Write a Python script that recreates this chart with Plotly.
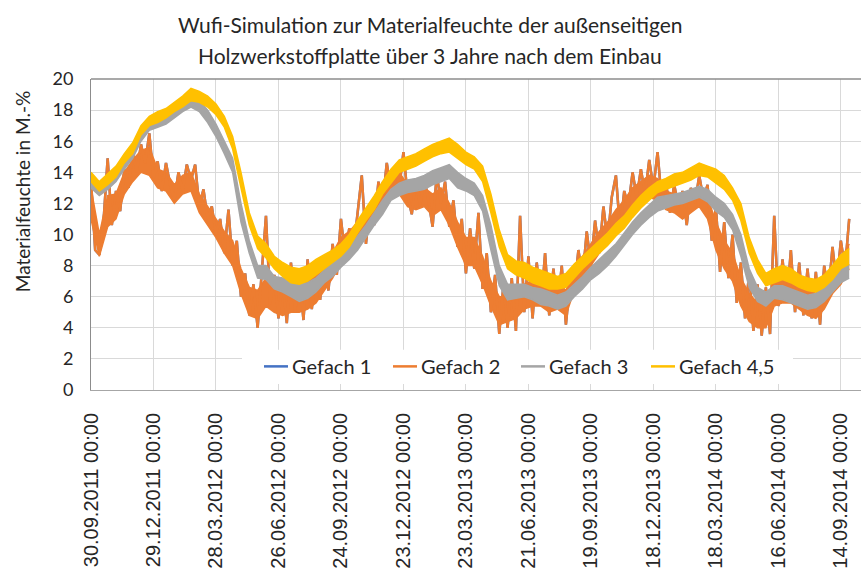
import pandas as pd
import plotly.graph_objects as go

START = pd.Timestamp("2011-09-30")

# Gefach 2: Materialfeuchte in M.-%, alle 6 Tage ab 30.09.2011 (Spitzen und Senken des Stundenverlaufs)
gefach_2 = [
    13.5, 9.0, 8.7, 10.8, 14.9, 10.6, 12.8, 11.5, 14.2, 13.0,
    15.3, 14.0, 15.8, 14.6, 16.5, 13.6, 14.7, 12.8, 14.6, 13.2,
    12.2, 14.0, 12.8, 14.5, 13.5, 14.5, 11.8, 12.9, 11.0, 11.8,
    10.0, 11.0, 8.8, 11.6, 8.0, 9.6, 6.0, 7.5, 4.8, 6.8,
    4.0, 7.6, 11.2, 5.5, 7.4, 4.6, 7.0, 4.3, 8.2, 5.0,
    7.6, 4.5, 8.4, 5.2, 7.8, 5.8, 8.6, 6.4, 9.4, 7.4,
    11.0, 8.6, 10.4, 9.0, 11.3, 13.8, 9.4, 12.0, 10.6, 13.4,
    12.0, 14.6, 12.8, 14.2, 13.0, 15.3, 12.5, 11.3, 13.5, 11.8,
    13.6, 12.2, 10.5, 13.9, 12.0, 13.4, 10.5, 12.2, 9.2, 11.0,
    7.5, 10.4, 7.8, 11.4, 6.5, 8.8, 5.0, 7.4, 3.6, 6.8,
    4.0, 7.2, 3.8, 11.2, 5.0, 8.6, 4.6, 8.2, 5.4, 8.8,
    4.8, 7.8, 5.2, 8.0, 4.2, 7.0, 6.4, 9.0, 7.2, 10.2,
    8.0, 10.9, 8.8, 11.8, 9.6, 12.4, 13.8, 10.3, 12.8, 11.8,
    14.0, 12.4, 14.2, 12.6, 14.8, 13.0, 15.3, 12.2, 13.4, 11.4,
    13.2, 11.8, 12.8, 10.6, 13.0, 12.0, 13.8, 12.3, 13.2, 9.6,
    11.8, 7.6, 10.8, 7.2, 10.0, 5.6, 8.2, 4.6, 7.6, 3.8,
    6.8, 3.5, 6.6, 3.6, 11.2, 5.4, 8.4, 5.6, 9.0, 5.0,
    8.2, 4.8, 7.8, 4.6, 7.6, 4.2, 8.0, 6.2, 9.2, 6.8,
    9.6, 7.8, 11.0,
]
# Gefach 1 liegt im Ergebnis deckungsgleich unter Gefach 2
gefach_1 = gefach_2

# Dichter Kern des Gefach-2-Verlaufs: obere und untere Grenze, alle 12 Tage
gefach_2_kern_oben = [
    13.0, 10.0, 12.5, 12.6, 14.0, 14.8, 15.4, 15.6, 14.2, 14.0,
    13.2, 13.8, 14.0, 12.6, 11.8, 11.0, 10.2, 9.6, 7.8, 6.6,
    6.4, 7.2, 6.8, 6.6, 7.0, 7.0, 7.2, 7.4, 8.0, 8.8,
    9.8, 10.2, 10.8, 11.6, 12.4, 13.4, 13.8, 14.0, 13.2, 12.8,
    13.0, 12.6, 13.0, 12.0, 10.8, 9.8, 9.8, 8.6, 7.0, 6.0,
    6.0, 6.4, 6.8, 7.0, 7.0, 6.6, 6.8, 6.4, 7.8, 8.6,
    9.4, 10.2, 10.8, 11.6, 12.2, 13.0, 13.4, 13.8, 13.6, 12.8,
    12.6, 12.2, 12.6, 13.0, 12.4, 10.8, 9.6, 8.8, 7.2, 6.2,
    5.6, 5.6, 7.0, 7.2, 7.2, 6.8, 6.4, 6.2, 6.8, 7.8,
    8.4, 9.4,
]
gefach_2_kern_unten = [
    11.0, 8.6, 10.5, 11.0, 12.6, 13.4, 14.0, 13.8, 13.0, 12.8,
    12.0, 12.6, 12.8, 11.4, 10.6, 9.8, 8.8, 8.0, 6.2, 4.8,
    4.6, 5.4, 5.0, 4.8, 5.0, 5.0, 5.2, 5.6, 6.4, 7.2,
    8.2, 8.8, 9.4, 10.0, 10.8, 11.8, 12.4, 12.6, 11.8, 11.6,
    11.8, 11.2, 11.6, 10.6, 9.2, 8.0, 8.0, 6.8, 5.4, 4.2,
    4.4, 4.6, 5.2, 5.4, 5.4, 5.0, 5.2, 4.8, 6.4, 7.2,
    8.0, 8.8, 9.4, 10.2, 10.8, 11.6, 12.0, 12.4, 12.2, 11.6,
    11.4, 11.0, 11.4, 11.8, 11.0, 9.0, 7.8, 7.0, 5.4, 4.4,
    4.0, 4.0, 5.4, 5.6, 5.6, 5.2, 4.8, 4.6, 5.2, 6.2,
    6.8, 7.8,
]

# Gefach 3 und Gefach 4,5: obere und untere Grenze des Stundenbandes, alle 12 Tage
gefach_3_oben = [
    13.6, 13.0, 13.5, 14.0, 14.8, 15.5, 16.6, 17.2, 17.5, 17.7,
    18.1, 18.5, 18.9, 18.6, 18.0, 17.1, 16.0, 14.9, 12.0, 9.6,
    8.0, 8.0, 7.3, 7.2, 7.0, 6.8, 6.9, 7.2, 7.7, 8.2,
    8.7, 9.2, 9.9, 10.6, 11.4, 12.2, 12.9, 13.3, 13.5, 13.6,
    13.8, 14.1, 14.3, 14.5, 14.0, 13.6, 13.3, 12.5, 10.6, 8.0,
    6.8, 6.8, 6.8, 6.6, 6.5, 6.3, 6.1, 6.3, 6.8, 7.3,
    7.9, 8.4, 8.9, 9.4, 10.1, 10.8, 11.4, 11.9, 12.4, 12.5,
    12.6, 12.7, 12.9, 13.1, 12.9, 12.4, 12.0, 11.3, 10.0, 7.8,
    6.6, 6.3, 6.7, 6.7, 6.5, 6.3, 6.1, 6.2, 6.6, 7.1,
    7.7, 8.1,
]
gefach_3_unten = [
    13.0, 12.5, 12.9, 13.4, 14.2, 14.9, 16.0, 16.7, 16.9, 17.1,
    17.5, 17.9, 18.2, 17.9, 17.2, 16.3, 15.2, 14.0, 10.8, 8.8,
    7.2, 7.1, 6.5, 6.3, 6.0, 5.7, 5.9, 6.3, 6.9, 7.3,
    7.9, 8.4, 9.0, 9.8, 10.6, 11.3, 12.2, 12.5, 12.7, 12.8,
    12.9, 13.2, 13.4, 13.6, 13.0, 12.8, 12.5, 11.5, 9.0, 6.7,
    5.8, 5.9, 6.0, 5.8, 5.5, 5.4, 5.2, 5.4, 6.0, 6.5,
    7.1, 7.5, 8.0, 8.6, 9.3, 10.0, 10.6, 11.1, 11.5, 11.7,
    11.9, 12.0, 12.2, 12.4, 12.1, 11.5, 11.1, 10.3, 8.6, 6.6,
    5.7, 5.4, 5.9, 5.8, 5.6, 5.4, 5.2, 5.3, 5.7, 6.3,
    6.9, 7.2,
]
gefach_45_oben = [
    14.0, 13.4, 13.9, 14.4, 15.2, 15.9, 17.0, 17.6, 17.9, 18.1,
    18.5, 18.9, 19.4, 19.2, 18.9, 18.4, 17.6, 16.3, 14.0, 11.4,
    9.9, 9.4, 8.6, 8.2, 7.9, 7.8, 8.0, 8.4, 8.7, 9.0,
    9.4, 10.0, 10.9, 11.7, 12.5, 13.4, 14.2, 14.8, 15.0, 15.2,
    15.5, 15.8, 16.0, 16.2, 15.8, 15.3, 15.0, 14.4, 12.6, 10.3,
    8.7, 8.3, 8.2, 7.9, 7.7, 7.5, 7.3, 7.5, 8.1, 8.6,
    9.1, 9.6, 10.1, 10.7, 11.2, 11.9, 12.5, 13.0, 13.4, 13.6,
    13.9, 14.0, 14.3, 14.6, 14.4, 14.2, 13.8, 13.0, 12.0, 9.8,
    8.4, 7.5, 7.8, 8.0, 7.8, 7.4, 7.2, 7.1, 7.4, 8.0,
    8.7, 9.1,
]
gefach_45_unten = [
    13.4, 12.8, 13.2, 13.7, 14.6, 15.2, 16.4, 17.0, 17.2, 17.5,
    17.9, 18.2, 18.6, 18.5, 18.2, 17.7, 16.9, 15.5, 13.0, 10.6,
    9.1, 8.5, 7.8, 7.3, 6.9, 6.8, 7.0, 7.4, 7.8, 8.2,
    8.6, 9.2, 10.1, 10.9, 11.6, 12.6, 13.3, 14.0, 14.2, 14.4,
    14.7, 15.0, 15.2, 15.3, 14.9, 14.5, 14.2, 13.4, 11.4, 9.2,
    7.8, 7.4, 7.2, 6.9, 6.7, 6.5, 6.5, 6.6, 7.2, 7.8,
    8.3, 8.8, 9.3, 9.9, 10.4, 11.1, 11.7, 12.2, 12.7, 12.9,
    13.1, 13.3, 13.5, 13.8, 13.7, 13.3, 12.9, 12.2, 10.9, 8.8,
    7.5, 6.7, 6.9, 7.1, 6.9, 6.6, 6.4, 6.3, 6.6, 7.1,
    7.8, 8.1,
]

assert (len(gefach_3_oben) == len(gefach_3_unten) == len(gefach_45_oben)
        == len(gefach_45_unten) == len(gefach_2_kern_oben) == len(gefach_2_kern_unten))

serien_namen = ["Gefach 1", "Gefach 2", "Gefach 3", "Gefach 4,5"]

tick_dates = pd.date_range(START, periods=13, freq="90D")
tick_labels = [d.strftime("%d.%m.%Y 00:00") for d in tick_dates]

t_fein = pd.date_range(START, periods=len(gefach_2), freq="6D")
t_band = pd.date_range(START, periods=len(gefach_3_oben), freq="12D")

BLAU = "#4472C4"
ORANGE = "#ED7D31"
GRAU = "#A5A5A5"
GELB = "#FFC000"
FARBEN = [BLAU, ORANGE, GRAU, GELB]
TEXT = "#262626"
GRID = "#D9D9D9"

fig = go.Figure()


def band(unten, oben, farbe, name):
    # untere Grenze, dann obere Grenze mit Füllung bis zur unteren
    fig.add_trace(go.Scatter(x=t_band, y=unten, mode="lines", name=name, showlegend=False,
                             line=dict(color=farbe, width=1.5), hoverinfo="skip"))
    fig.add_trace(go.Scatter(x=t_band, y=oben, mode="lines", name=name, showlegend=False,
                             line=dict(color=farbe, width=1.5), fill="tonexty",
                             fillcolor=farbe, hoverinfo="skip"))


fig.add_trace(go.Scatter(x=t_fein, y=gefach_1, mode="lines", name=serien_namen[0],
                         showlegend=False, line=dict(color=BLAU, width=2.5)))
band(gefach_2_kern_unten, gefach_2_kern_oben, ORANGE, serien_namen[1])
fig.add_trace(go.Scatter(x=t_fein, y=gefach_2, mode="lines", name=serien_namen[1],
                         showlegend=False, line=dict(color=ORANGE, width=2.5)))
band(gefach_3_unten, gefach_3_oben, GRAU, serien_namen[2])
band(gefach_45_unten, gefach_45_oben, GELB, serien_namen[3])

L, R, T, B = 91, 0, 79, 174
W, H = 861, 569
pw = W - L - R
ph = H - T - B


def px_x(x):
    return (x - L) / pw


def px_y(y):
    return (H - B - y) / ph


# Legende im Diagramm: weißes Feld über den Gitterlinien, Linienmuster und Beschriftung
shapes = [
    dict(type="line", xref="paper", yref="paper", x0=0, x1=1, y0=1, y1=1,
         line=dict(color="#8C8C8C", width=1.5)),
    dict(type="rect", xref="paper", yref="paper", layer="above",
         x0=px_x(242), x1=px_x(793), y0=px_y(389), y1=px_y(354),
         fillcolor="white", line=dict(width=0)),
]
annotations = []
legende_x = [264, 393, 521, 651]
legende_y = 371
for xs, name, farbe in zip(legende_x, serien_namen, FARBEN):
    shapes.append(dict(type="line", xref="paper", yref="paper", layer="above",
                       x0=px_x(xs), x1=px_x(xs + 24), y0=px_y(legende_y), y1=px_y(legende_y),
                       line=dict(color=farbe, width=2.5)))
    annotations.append(dict(text=name, xref="paper", yref="paper",
                            x=px_x(xs + 26), y=px_y(legende_y), xanchor="left", yanchor="middle",
                            showarrow=False, font=dict(family="Lato", size=20, color=TEXT)))

annotations += [
    dict(text="Wufi-Simulation zur Materialfeuchte der außenseitigen",
         xref="paper", yref="paper", x=px_x(430), y=px_y(24),
         xanchor="center", yanchor="middle", showarrow=False,
         font=dict(family="Lato", size=21, color=TEXT)),
    dict(text="Holzwerkstoffplatte über 3 Jahre nach dem Einbau",
         xref="paper", yref="paper", x=px_x(430), y=px_y(55),
         xanchor="center", yanchor="middle", showarrow=False,
         font=dict(family="Lato", size=21, color=TEXT)),
    dict(text="Materialfeuchte in M.-%",
         xref="paper", yref="paper", x=px_x(22), y=px_y(193),
         xanchor="center", yanchor="middle", textangle=-90, showarrow=False,
         font=dict(family="Lato", size=19, color=TEXT)),
]

fig.update_layout(
    width=W, height=H,
    margin=dict(l=L, r=R, t=T, b=B, pad=0),
    paper_bgcolor="white", plot_bgcolor="white",
    font=dict(family="Lato, sans-serif", color=TEXT),
    showlegend=False,
    xaxis=dict(
        type="date",
        range=[START, START + pd.Timedelta(days=1109)],
        tickvals=tick_dates, ticktext=tick_labels, tickangle=-90,
        tickfont=dict(family="Liberation Sans, Arial", size=20, color=TEXT),
        showgrid=True, gridcolor=GRID, gridwidth=1,
        showline=True, linecolor="#A6A6A6", linewidth=1,
        zeroline=False, ticks="", ticklabelstandoff=14,
    ),
    yaxis=dict(
        range=[0, 20], dtick=2, tick0=0,
        tickfont=dict(family="Lato", size=18, color=TEXT),
        showgrid=True, gridcolor=GRID, gridwidth=1,
        showline=True, linecolor="#8C8C8C", linewidth=1,
        zeroline=False, ticks="", ticklabelstandoff=13,
    ),
    shapes=shapes,
    annotations=annotations,
)

fig.write_html("out.html")
